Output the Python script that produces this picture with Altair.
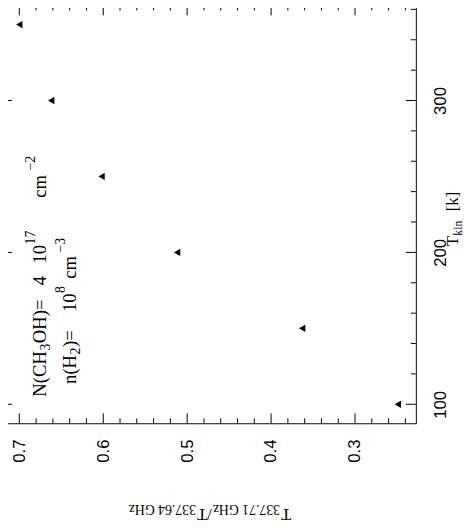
import altair as alt
import pandas as pd

# ---- data ----
ratio = [0.700, 0.662, 0.602, 0.512, 0.363, 0.249]
tkin = [350, 300, 250, 200, 150, 100]

x_major = [0.3, 0.4, 0.5, 0.6, 0.7]
x_minor = [0.24, 0.26, 0.28, 0.32, 0.34, 0.36, 0.38, 0.42, 0.44, 0.46, 0.48,
           0.52, 0.54, 0.56, 0.58, 0.62, 0.64, 0.66, 0.68, 0.72]
y_major = [100, 200, 300]
y_minor = [120, 140, 160, 180, 220, 240, 260, 280, 320, 340, 360]

# text pieces: (text, role) with role main / sub / sup
x_title = [("T", "main"), ("337.71 GHz", "sub"), ("/T", "main"), ("337.64 GHz", "sub")]
y_title = [("T", "main"), ("kin", "sub"), ("[k]", "main")]
ann1 = [("N(CH", "main"), ("3", "sub"), ("OH)=", "main"), ("4", "main"),
        ("10", "main"), ("17", "sup"), ("cm", "main"), ("\u22122", "sup")]
ann2 = [("n(H", "main"), ("2", "sub"), (")=", "main"), ("10", "main"),
        ("8", "sup"), ("cm", "main"), ("\u22123", "sup")]

W, H = 421, 425
OX, OY = 2, 1  # page position of the plot origin
SERIF = "Liberation Serif"

# Times-like advance widths (em) used to chain text pieces
ADV = {"0": .5, "1": .5, "2": .5, "3": .5, "4": .5, "5": .5, "6": .5, "7": .5,
       "8": .5, "9": .5, ".": .25, " ": .25, "G": .722, "H": .722, "z": .444,
       "T": .611, "/": .278, "k": .5, "i": .278, "n": .5, "[": .333, "]": .333,
       "N": .722, "(": .333, "C": .667, "O": .722, ")": .333, "=": .564,
       "c": .444, "m": .778, "\u2212": .564}


def width(s, size):
    return sum(ADV.get(c, .5) for c in s) * size


pts = pd.DataFrame({"ratio": ratio, "tkin": tkin})
xs = alt.Scale(domain=[0.7205, 0.2275], nice=False, zero=False)
ys = alt.Scale(domain=[87.5, 362.5], nice=False, zero=False)

base = alt.Chart(pts).mark_point(shape="triangle-left", filled=True, color="black",
                                 size=55, opacity=1).encode(
    x=alt.X("ratio:Q", scale=xs,
            axis=alt.Axis(values=x_major, format=".1f", labelAngle=270,
                          labelAlign="right", labelBaseline="middle",
                          labelPadding=16, ticks=False, domain=False, grid=False,
                          labelFont="Liberation Sans", labelFontSize=17,
                          labelColor="black", title=None)),
    y=alt.Y("tkin:Q", scale=ys,
            axis=alt.Axis(orient="right", values=y_major, format="d", labelAngle=270,
                          labelAlign="center", labelBaseline="top",
                          labelPadding=17, ticks=False, domain=False, grid=False,
                          labelFont="Liberation Sans", labelFontSize=17,
                          labelColor="black", title=None)),
)


def xticks(vals, length, top):
    df = pd.DataFrame({"v": vals})
    y0, y1 = (0, length) if top else (H, H - length)
    return alt.Chart(df).mark_rule(color="black", strokeWidth=1).encode(
        x=alt.X("v:Q", scale=xs), y=alt.value(y0), y2=alt.value(y1))


def yticks(vals, length, right):
    df = pd.DataFrame({"v": vals})
    x0, x1 = (W, W - length) if right else (0, length)
    return alt.Chart(df).mark_rule(color="black", strokeWidth=1).encode(
        y=alt.Y("v:Q", scale=ys), x=alt.value(x0), x2=alt.value(x1))


def txt(s, px, py, size, angle):
    df = pd.DataFrame({"t": [s]})
    return alt.Chart(df).mark_text(align="left", baseline="alphabetic", angle=angle,
                                   fontSize=size, font=SERIF,
                                   color="black").encode(
        x=alt.value(px - OX), y=alt.value(py - OY), text="t:N")


def run(pieces, start, base_line, main, small, direction, angle, gaps=None,
        sup=0.6, sub=0.22):
    """Lay out text pieces one after another along the reading direction."""
    out = []
    pos = start
    for i, (s, role) in enumerate(pieces):
        if gaps and i in gaps:
            pos -= gaps[i]
        size = main if role == "main" else small
        off = 0
        if role == "sup":
            off = sup * main
        elif role == "sub":
            off = -sub * main
        if direction == "up":
            out.append(txt(s, base_line - off, pos, size, angle))
            pos -= width(s, size) + 0.5
        else:  # leftwards (upside-down text): 'up' in glyph frame = page down
            out.append(txt(s, pos, base_line + off, size, angle))
            pos -= width(s, size) + 1
    return out


layers = [base]
for top in (False, True):
    layers.append(xticks(x_major, 10, top))
    layers.append(xticks(x_minor, 5, top))
for right in (False, True):
    layers.append(yticks(y_major, 10, right))
    layers.append(yticks(y_minor, 5, right))

# x axis title (upside down, centred under the plot)
xt_total = sum(width(s, 17 if r == "main" else 14) + 1 for s, r in x_title)
layers += run(x_title, 213 + xt_total / 2, 513, 17, 14, "left", 180)
# y axis title (right side, reading upward)
layers += run(y_title, 246, 466, 17, 12, "up", 270, gaps={2: 9}, sub=0.22)
# annotations
layers += run(ann1, 399, 47, 19, 14, "up", 270,
              gaps={3: 14, 4: 12, 6: 33, 7: 4})
layers += run(ann2, 386, 77, 19, 14, "up", 270,
              gaps={3: 18, 5: 7, 6: 3})

chart = alt.layer(*layers).properties(
    width=W, height=H,
    padding={"left": -6, "top": -7, "right": 50, "bottom": 100},
    autosize="none",
).configure_view(stroke="black", strokeWidth=1)

chart.save("out.html", embed_options={"renderer": "svg", "actions": False})
